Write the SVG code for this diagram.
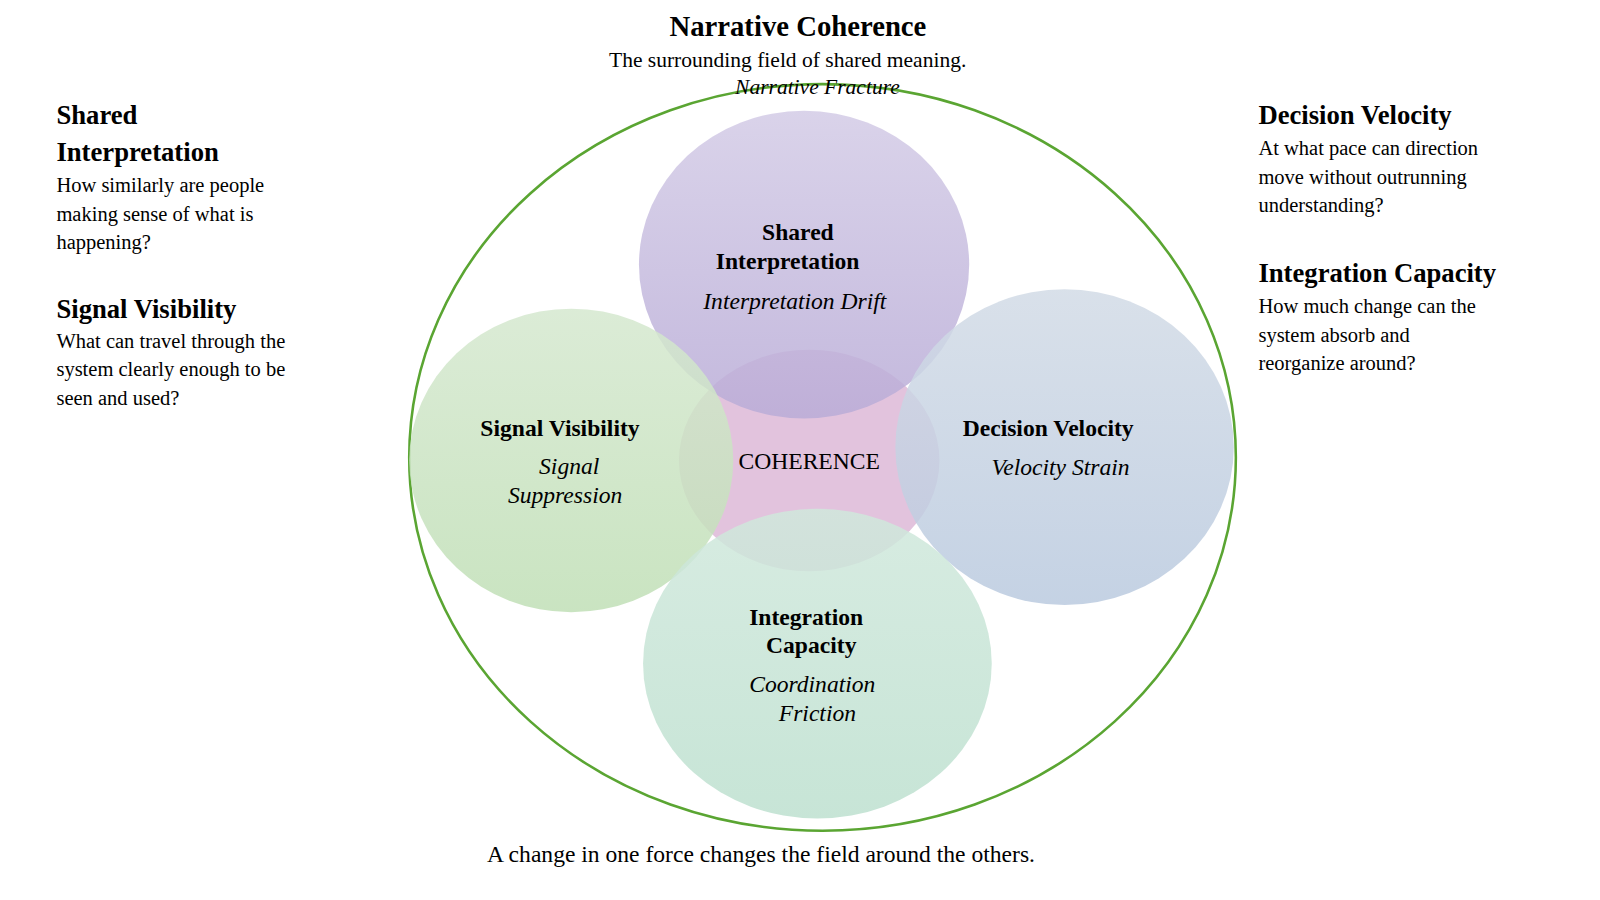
<svg xmlns="http://www.w3.org/2000/svg" width="1600" height="900" viewBox="0 0 1600 900">
<style>
text{font-family:"Liberation Serif","Times New Roman",serif;fill:#000}
.h{font-size:26px;font-weight:bold}
.d{font-size:20px}
.n{font-size:23px;font-weight:bold;text-anchor:middle}
.i{font-size:23px;font-style:italic;text-anchor:middle}
.c{opacity:0.85}
</style>
<defs>
<linearGradient id="gp" x1="0" y1="0" x2="0" y2="1"><stop offset="0" stop-color="#d3cbe6"/><stop offset="1" stop-color="#b9acd7"/></linearGradient>
<linearGradient id="gg" x1="0" y1="0" x2="0" y2="1"><stop offset="0" stop-color="#d5e8cf"/><stop offset="1" stop-color="#c0dfb6"/></linearGradient>
<linearGradient id="gb" x1="0" y1="0" x2="0" y2="1"><stop offset="0" stop-color="#d2dbe6"/><stop offset="1" stop-color="#bacadf"/></linearGradient>
<linearGradient id="gt" x1="0" y1="0" x2="0" y2="1"><stop offset="0" stop-color="#d0e8dc"/><stop offset="1" stop-color="#bde0cf"/></linearGradient>
</defs>
<rect width="1600" height="900" fill="#fff"/>
<g transform="scale(1.0256)">
<g id="field"><ellipse cx="802" cy="446" rx="403" ry="364" fill="none" stroke="#5aa532" stroke-width="2.5"/></g>
<g id="core"><ellipse cx="789" cy="449" rx="127" ry="108" fill="#e2c3dd"/></g>
<g id="interp"><ellipse class="c" cx="784" cy="258" rx="161" ry="150" fill="url(#gp)"/></g>
<g id="signal"><ellipse class="c" cx="557" cy="449" rx="158" ry="148" fill="url(#gg)"/></g>
<g id="velocity"><ellipse class="c" cx="1038" cy="436" rx="165" ry="154" fill="url(#gb)"/></g>
<g id="integration"><ellipse class="c" cx="797" cy="647" rx="170" ry="151" fill="url(#gt)"/></g>
<g id="connectors"></g>
<g id="labels">
<text x="789" y="457" font-size="23" text-anchor="middle">COHERENCE</text>
<text class="n" x="778" y="234">Shared</text>
<text class="n" x="768" y="262">Interpretation</text>
<text class="i" x="775" y="301">Interpretation Drift</text>
<text class="n" x="546" y="425">Signal Visibility</text>
<text class="i" x="555" y="462">Signal</text>
<text class="i" x="551" y="490">Suppression</text>
<text class="n" x="1022" y="425">Decision Velocity</text>
<text class="i" x="1034" y="463">Velocity Strain</text>
<text class="n" x="786" y="609">Integration</text>
<text class="n" x="791" y="637">Capacity</text>
<text class="i" x="792" y="675">Coordination</text>
<text class="i" x="797" y="703">Friction</text>
<text x="778" y="35" font-size="28" font-weight="bold" text-anchor="middle">Narrative Coherence</text>
<text x="768" y="65" font-size="21" text-anchor="middle">The surrounding field of shared meaning.</text>
<text x="797" y="92" font-size="21" font-style="italic" text-anchor="middle">Narrative Fracture</text>
<text x="742" y="840" font-size="23" text-anchor="middle">A change in one force changes the field around the others.</text>
</g>
<g id="legend-left">
<text class="h" x="55" y="121">Shared</text>
<text class="h" x="55" y="157">Interpretation</text>
<text class="d" x="55" y="187">How similarly are people</text>
<text class="d" x="55" y="215">making sense of what is</text>
<text class="d" x="55" y="243">happening?</text>
<text class="h" x="55" y="310">Signal Visibility</text>
<text class="d" x="55" y="339">What can travel through the</text>
<text class="d" x="55" y="367">system clearly enough to be</text>
<text class="d" x="55" y="395">seen and used?</text>
</g>
<g id="legend-right">
<text class="h" x="1227" y="121">Decision Velocity</text>
<text class="d" x="1227" y="151">At what pace can direction</text>
<text class="d" x="1227" y="179">move without outrunning</text>
<text class="d" x="1227" y="207">understanding?</text>
<text class="h" x="1227" y="275">Integration Capacity</text>
<text class="d" x="1227" y="305">How much change can the</text>
<text class="d" x="1227" y="333">system absorb and</text>
<text class="d" x="1227" y="361">reorganize around?</text>
</g>
</g>
</svg>
